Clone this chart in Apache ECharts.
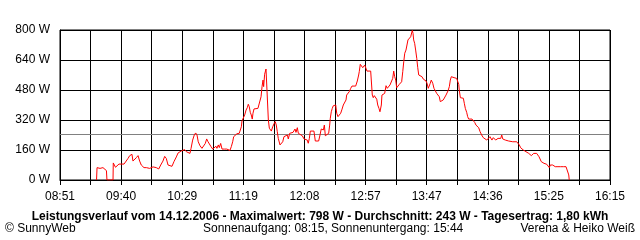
<!DOCTYPE html>
<html>
<head>
<meta charset="utf-8">
<script src="https://cdn.jsdelivr.net/npm/echarts@6/dist/echarts.min.js"></script>
<style>
html,body{margin:0;padding:0;background:#fff;}
#c{width:640px;height:240px;}
</style>
</head>
<body>
<div id="c"></div>
<script>
// Time of each sample, minutes after 08:51
var minutesAfter0851 = [
29.5,29.9,31.5,32.3,34.7,36.3,37.5,37.9,42.8,43.0,44.8,46.0,47.6,49.2,51.7,53.3,54.9,56.3,58.1,58.9,
60.3,61.6,63.0,64.3,65.6,67.8,69.7,71.0,72.4,73.7,75.1,77.7,79.7,81.3,83.1,84.5,85.8,87.2,88.6,90.4,
92.0,93.9,95.3,96.6,97.9,99.3,100.7,102.0,103.1,104.9,105.8,107.1,108.4,109.5,110.6,111.6,113.0,114.6,116.2,117.3,
118.4,119.5,120.5,121.9,123.3,124.6,125.9,126.7,127.8,128.6,129.7,130.8,132.6,134.6,136.2,137.2,138.3,139.4,140.2,141.5,
142.9,144.7,145.6,146.4,146.9,148.0,149.1,150.2,151.2,152.0,152.8,153.6,154.4,155.2,155.8,156.6,158.2,159.8,160.9,162.3,
163.1,163.9,164.4,165.2,166.3,167.1,167.7,168.2,169.0,169.8,170.6,171.7,172.8,173.8,174.6,175.4,176.2,177.6,178.6,179.8,
180.8,181.9,182.4,183.5,184.3,185.4,186.7,188.1,188.9,189.7,190.5,191.6,192.4,193.7,195.6,197.0,198.3,199.6,200.4,201.3,
202.1,203.4,205.0,205.9,206.1,207.7,208.8,209.9,210.9,211.7,212.6,213.4,214.2,215.8,216.9,217.7,218.2,219.0,219.8,220.6,
221.8,222.6,223.4,224.4,225.5,226.6,227.7,228.7,229.8,230.9,231.4,232.5,233.5,234.7,235.7,237.3,238.7,239.5,240.0,241.1,
241.6,242.4,243.2,244.4,245.2,246.0,246.5,247.0,247.8,249.4,250.8,251.6,252.1,252.9,253.7,254.9,255.7,256.5,257.5,258.3,
259.4,259.9,261.0,262.1,263.2,264.2,265.3,266.4,267.5,268.6,269.4,270.2,271.0,271.8,272.6,273.4,273.9,275.0,275.8,276.7,
277.5,278.3,279.3,280.1,280.9,282.0,283.1,283.9,284.4,285.0,285.5,286.3,287.1,288.0,288.8,289.6,290.9,292.2,293.3,294.4,
295.5,296.3,297.3,298.1,298.9,299.7,300.3,300.9,301.9,303.0,304.1,305.1,306.2,307.0,308.4,309.4,310.6,311.6,313.2,314.3,
315.1,315.9,317.0,318.1,319.1,320.2,321.3,321.9,322.3,323.2,324.5,325.6,326.4,327.2,328.3,329.1,329.9,331.2,332.6,333.6,
334.8,335.8,336.9,338.0,339.1,340.4,341.7,343.1,344.5,345.8,347.1,347.9,348.7,349.8,350.9,351.7,352.5,353.6,354.6,355.8,
356.6,357.4,358.4,359.5,360.6,362.2,363.8,365.5,367.1,368.7,369.7,370.8,371.9,373.2,374.0,375.1,376.2,377.2,378.4,379.4,
380.5,381.6,382.4,383.5,384.8,385.9,386.7,387.5,388.5,389.7,390.7,391.8,392.9,394.2,395.0,395.8,396.6,397.7,398.8,399.8,
401.0,402.0,403.1,404.2,405.3,406.3,407.4,408.5,409.5,410.1,410.7,411.1
];
// Power in W at each sample
var powerW = [
0,66,66,62,66,60,50,0,0,91,68,78,85,85,85,80,115,130,137,101,
108,119,130,101,80,66,66,59,62,70,70,66,59,80,101,126,115,80,73,73,
98,123,144,151,155,158,162,151,146,142,169,213,240,251,240,204,183,169,169,195,
219,204,204,178,165,169,180,169,187,173,195,165,165,165,165,158,178,204,231,231,
247,249,252,284,315,320,347,373,386,404,391,361,347,325,356,379,382,382,386,444,
498,533,498,564,592,599,596,320,276,272,261,284,300,311,293,258,222,187,195,204,
231,222,236,240,219,249,254,254,258,272,254,279,249,240,236,219,213,213,196,222,
261,261,261,261,208,208,208,240,272,279,267,293,236,240,249,293,329,364,382,396,
400,400,356,338,343,356,378,400,404,427,453,444,471,489,501,501,501,510,528,560,
578,617,622,599,604,613,617,596,581,581,581,578,453,439,450,444,431,400,382,364,
400,453,462,462,503,489,496,507,516,542,581,551,533,492,498,485,510,516,524,578,
631,676,693,720,747,751,764,773,798,782,747,729,693,649,599,560,556,551,538,533,
528,516,489,498,516,533,542,516,489,480,462,453,444,418,418,427,436,453,475,498,
533,551,556,546,546,542,538,510,480,439,439,436,409,382,361,338,325,325,325,325,
307,293,284,279,258,240,226,219,213,219,231,236,213,226,236,213,222,222,231,222,
240,219,222,213,208,208,208,204,208,204,201,187,172,165,160,155,151,142,142,137,
130,130,142,142,142,133,124,116,98,94,89,89,84,80,66,80,84,80,76,71,
66,71,62,71,66,71,71,71,66,62,27,0
];
var averageW = 243;
var timeLabels = ['08:51','09:40','10:29','11:19','12:08','12:57','13:47','14:36','15:25','16:15'];
var powerTicks = [0,160,320,480,640,800];
var titleText = 'Leistungsverlauf vom 14.12.2006 - Maximalwert: 798 W - Durchschnitt: 243 W - Tagesertrag: 1,80 kWh';
var footerLeft = '\u00a9 SunnyWeb';
var footerMid = 'Sonnenaufgang: 08:15, Sonnenuntergang: 15:44';
var footerRight = 'Verena & Heiko Wei\u00df';

var spanSeconds = 444 * 60;         // 08:51 .. 16:15
var gridStep = spanSeconds / 18;    // 1480 s

var seriesData = minutesAfter0851.map(function (m, i) { return [m * 60, powerW[i]]; });

var FONT = '"Liberation Sans", Arial, sans-serif';
var chart = echarts.init(document.getElementById('c'), null, {renderer: 'canvas'});
chart.setOption({
  animation: false,
  backgroundColor: '#ffffff',
  grid: {left: 60, top: 30, width: 550, height: 150, show: true, borderColor: '#000', borderWidth: 1, backgroundColor: 'transparent'},
  xAxis: {
    type: 'value', min: 0, max: spanSeconds, interval: gridStep,
    axisLine: {show: true, lineStyle: {color: '#000', width: 1}},
    axisTick: {show: true, length: 5, lineStyle: {color: '#000', width: 1}},
    splitLine: {show: true, lineStyle: {color: '#000', width: 1}},
    axisLabel: {
      color: '#000', fontFamily: FONT, fontSize: 12, margin: 11,
      showMinLabel: true, showMaxLabel: true, hideOverlap: false,
      formatter: function (v) {
        var idx = Math.round(v / gridStep);
        return idx % 2 === 0 ? timeLabels[idx / 2] : '';
      }
    }
  },
  yAxis: {
    type: 'value', min: powerTicks[0], max: powerTicks[powerTicks.length - 1], interval: powerTicks[1] - powerTicks[0],
    axisLine: {show: true, lineStyle: {color: '#000', width: 1}},
    axisTick: {show: false},
    splitLine: {show: true, lineStyle: {color: '#000', width: 1}},
    axisLabel: {color: '#000', fontFamily: FONT, fontSize: 12, margin: 10, formatter: '{value} W'}
  },
  series: [{
    type: 'line', data: seriesData, showSymbol: false, symbol: 'none',
    lineStyle: {color: '#ff0000', width: 1}, z: 3,
    markLine: {
      silent: true, symbol: 'none', label: {show: false},
      lineStyle: {color: '#808080', width: 1, type: 'solid'},
      data: [{yAxis: averageW}], z: 2
    }
  }],
  graphic: [
    {type: 'text', left: 'center', top: 211, style: {text: titleText, font: 'bold 12px ' + FONT, fill: '#000'}},
    {type: 'text', left: 5, top: 223, style: {text: footerLeft, font: '12px ' + FONT, fill: '#000'}},
    {type: 'text', left: 203, top: 223, style: {text: footerMid, font: '12px ' + FONT, fill: '#000'}},
    {type: 'text', right: 5, top: 223, style: {text: footerRight, font: '12px ' + FONT, fill: '#000'}}
  ]
});
</script>
</body>
</html>
